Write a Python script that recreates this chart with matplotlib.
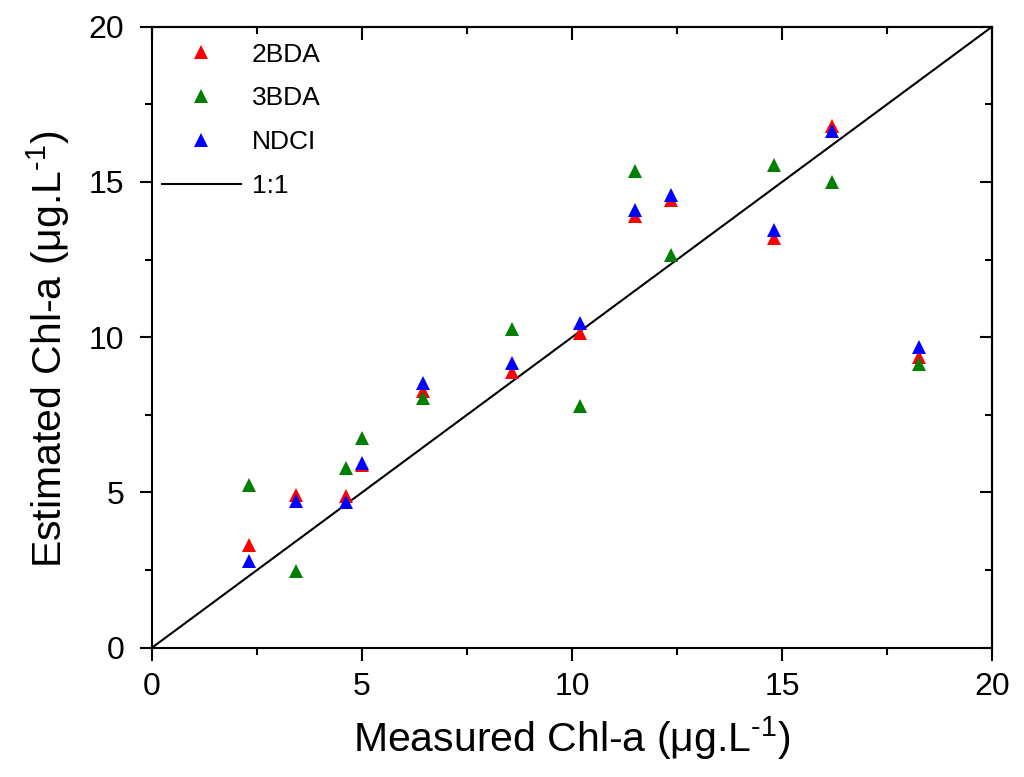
import matplotlib
matplotlib.use("Agg")
import matplotlib.pyplot as plt

plt.rcParams["font.family"] = ["Liberation Sans", "DejaVu Sans"]
plt.rcParams["mathtext.fontset"] = "custom"
plt.rcParams["mathtext.rm"] = "Liberation Sans"
plt.rcParams["mathtext.it"] = "Liberation Sans:italic"

measured = [2.32, 3.42, 4.61, 4.99, 6.45, 8.58, 10.2, 11.5, 12.36, 14.8, 16.2, 18.25]
est_2bda = [3.31, 4.92, 4.90, 5.88, 8.26, 8.89, 10.12, 13.91, 14.43, 13.20, 16.81, 9.37]
est_3bda = [5.24, 2.46, 5.78, 6.77, 8.04, 10.25, 7.77, 15.35, 12.66, 15.55, 14.99, 9.14]
est_ndci = [2.78, 4.73, 4.69, 5.94, 8.53, 9.18, 10.45, 14.10, 14.59, 13.45, 16.65, 9.69]
one_to_one = [0, 20]

fig = plt.figure(figsize=(10.24, 7.77), dpi=100)
ax = fig.add_axes([0.1484, 0.1664, 0.8204, 0.7992])

ms = 9.5
ax.plot(measured, est_2bda, "^", color="#ff0000", ms=ms, mew=0, label="2BDA", zorder=3)
ax.plot(measured, est_3bda, "^", color="#008000", ms=ms, mew=0, label="3BDA", zorder=4)
ax.plot(measured, est_ndci, "^", color="#0000ff", ms=ms, mew=0, label="NDCI", zorder=5)
ax.plot(one_to_one, one_to_one, color="black", lw=1.5, label="1:1", zorder=2)

major = [0, 5, 10, 15, 20]
minor = [2.5, 7.5, 12.5, 17.5]
ax.set_xlim(0, 20)
ax.set_ylim(0, 20)
ax.set_xticks(major)
ax.set_yticks(major)
ax.set_xticks(minor, minor=True)
ax.set_yticks(minor, minor=True)
ax.tick_params(which="both", direction="out", width=1.5, labelsize=23)
ax.tick_params(axis="x", pad=8.5)
ax.tick_params(axis="y", pad=11)
ax.tick_params(which="major", length=9)
ax.tick_params(which="minor", length=5)

for spine in ax.spines.values():
    spine.set_linewidth(1.5)

# top / right ticks point inward
top = ax.secondary_xaxis("top")
top.set_xticks(major)
top.set_xticks(minor, minor=True)
top.tick_params(which="both", direction="in", width=1.5, labeltop=False)
top.tick_params(which="major", length=9)
top.tick_params(which="minor", length=5)
top.spines["top"].set_linewidth(1.5)
right = ax.secondary_yaxis("right")
right.set_yticks(major)
right.set_yticks(minor, minor=True)
right.tick_params(which="both", direction="in", width=1.5, labelright=False)
right.tick_params(which="major", length=9)
right.tick_params(which="minor", length=5)
right.spines["right"].set_linewidth(1.5)

unit = "(μg.L$^{\\text{-}1}$)"
ax.set_xlabel("Measured Chl-a " + unit, fontsize=29.5, labelpad=8.5)
ax.set_ylabel("Estimated Chl-a " + unit, fontsize=29.5, labelpad=12)
ax.yaxis.label.set_y(0.481)

ax.legend(loc="upper left", frameon=False, fontsize=19, handlelength=3.0,
          labelspacing=0.75, borderaxespad=0.2, handletextpad=0.4,
          bbox_to_anchor=(-0.007, 1.0))

fig.savefig("out.png", dpi=100)
